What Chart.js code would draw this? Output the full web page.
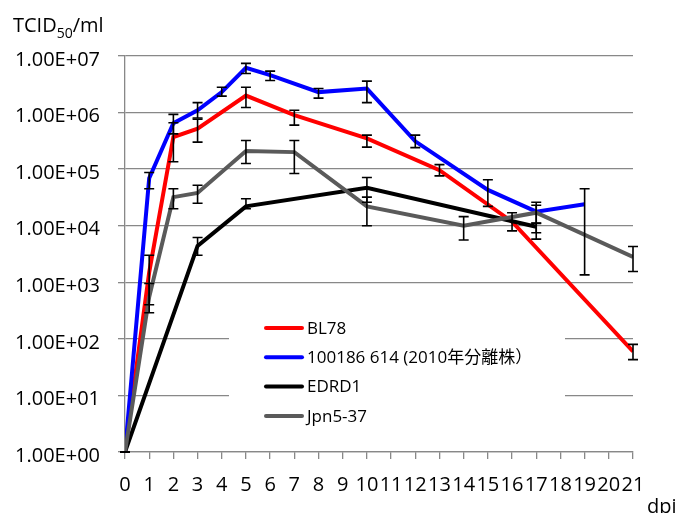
<!DOCTYPE html>
<html>
<head>
<meta charset="utf-8">
<script src="https://cdn.jsdelivr.net/npm/chart.js@4"></script>
<style>
html,body{margin:0;padding:0;background:#fff;}
canvas{display:block;}
</style>
</head>
<body>
<canvas id="c" width="676" height="513"></canvas>
<script>
// ---- data ----
const seriesLabels = ["BL78", "100186 614 (2010年分離株）", "EDRD1", "Jpn5-37"];
const seriesColors = ["#ff0000", "#0000ff", "#000000", "#5a5a5a"];

const bl78Days   = [0, 1, 2, 3, 5, 7, 10, 13, 16, 21];
const bl78Values = [1, 1.5e3, 3.7e5, 5.2e5, 2.0e6, 9.0e5, 3.5e5, 9.6e4, 1.18e4, 60];
const bl78Upper  = [1, 3.0e3, 6.6e5, 7.6e5, 2.8e6, 1.1e6, 4.0e5, 1.2e5, 1.7e4, 80];
const bl78Lower  = [1, 400, 1.35e5, 3.0e5, 1.23e6, 6.0e5, 2.45e5, 7.6e4, 8.1e3, 43];

const iso2010Days   = [0, 1, 2, 3, 4, 5, 6, 8, 10, 12, 15, 17, 19];
const iso2010Values = [1, 6.9e4, 6.5e5, 1.1e6, 2.3e6, 6.2e6, 4.6e6, 2.3e6, 2.66e6, 3.1e5, 4.3e4, 1.77e4, 2.4e4];
const iso2010Upper  = [1, 8.7e4, 9.3e5, 1.5e6, 2.8e6, 7.4e6, 5.4e6, 2.66e6, 3.6e6, 4.0e5, 6.5e4, 2.3e4, 4.5e4];
const iso2010Lower  = [1, 4.5e4, 4.2e5, 8.0e5, 1.95e6, 4.9e6, 3.7e6, 1.8e6, 1.5e6, 2.4e5, 2.2e4, 1.1e4, 1.35e3];

const edrd1Days   = [0, 3, 5, 10, 17];
const edrd1Values = [1, 4.4e3, 2.2e4, 4.7e4, 9.6e3];
const edrd1Upper  = [1, 6.2e3, 3.0e4, 7.1e4, 1.12e4];
const edrd1Lower  = [1, 3.0e3, 2.0e4, 2.6e4, 7.5e3];

const jpnDays   = [0, 1, 2, 3, 5, 7, 10, 14, 17, 21];
const jpnValues = [1, 550, 3.2e4, 3.8e4, 2.1e5, 2.0e5, 2.2e4, 1.0e4, 1.7e4, 2.8e3];
const jpnUpper  = [1, 950, 4.5e4, 5.2e4, 3.2e5, 3.2e5, 3.2e4, 1.45e4, 2.6e4, 4.3e3];
const jpnLower  = [1, 290, 2.0e4, 2.5e4, 1.26e5, 8.4e4, 1.0e4, 5.6e3, 5.8e3, 1.55e3];

const xTicks = [0,1,2,3,4,5,6,7,8,9,10,11,12,13,14,15,16,17,18,19,20,21];
const yTicks = [1, 1e1, 1e2, 1e3, 1e4, 1e5, 1e6, 1e7];
const yTickLabels = ["1.00E+00","1.00E+01","1.00E+02","1.00E+03","1.00E+04","1.00E+05","1.00E+06","1.00E+07"];
const yAxisTitle = ["TCID", "50", "/ml"];
const xAxisTitle = "dpi";

// ---- build ----
const allDays = [bl78Days, iso2010Days, edrd1Days, jpnDays];
const allVals = [bl78Values, iso2010Values, edrd1Values, jpnValues];
const allUp = [bl78Upper, iso2010Upper, edrd1Upper, jpnUpper];
const allLo = [bl78Lower, iso2010Lower, edrd1Lower, jpnLower];

const datasets = seriesLabels.map((lab, i) => ({
  label: lab,
  data: allDays[i].map((d, j) => ({x: d, y: allVals[i][j]})),
  errUp: allUp[i],
  errLo: allLo[i],
  borderColor: seriesColors[i],
  backgroundColor: seriesColors[i],
  borderWidth: 4,
  pointRadius: 0,
  tension: 0,
  fill: false,
  order: 4 - i
}));

const FONT = "'Open Sans', 'Noto Sans CJK JP', sans-serif";

const legendPlugin = {
  id: 'customLegend',
  beforeDatasetsDraw(chart) {
    const ctx = chart.ctx;
    ctx.save();
    ctx.fillStyle = '#fff';
    ctx.fillRect(229, 300, 336, 140);
    ctx.font = "17px " + FONT;
    ctx.textBaseline = 'middle';
    ctx.textAlign = 'left';
    chart.data.datasets.forEach((ds, i) => {
      const y = 328 + i * 29.3;
      ctx.strokeStyle = ds.borderColor;
      ctx.lineWidth = 4;
      ctx.lineCap = 'round';
      ctx.beginPath();
      ctx.moveTo(266, y);
      ctx.lineTo(302, y);
      ctx.stroke();
      ctx.fillStyle = '#000';
      ctx.fillText(ds.label, 307, y + 1);
    });
    ctx.restore();
  }
};

const errorBarPlugin = {
  id: 'errorBars',
  afterDatasetsDraw(chart) {
    const ctx = chart.ctx;
    const xs = chart.scales.x, ys = chart.scales.y;
    ctx.save();
    ctx.strokeStyle = '#000';
    ctx.lineWidth = 1.6;
    chart.data.datasets.forEach(ds => {
      ds.data.forEach((p, j) => {
        const px = xs.getPixelForValue(p.x);
        const pt = ys.getPixelForValue(ds.errUp[j]);
        const pb = ys.getPixelForValue(ds.errLo[j]);
        ctx.beginPath();
        ctx.moveTo(px, pt); ctx.lineTo(px, pb);
        ctx.moveTo(px - 5, pt); ctx.lineTo(px + 5, pt);
        ctx.moveTo(px - 5, pb); ctx.lineTo(px + 5, pb);
        ctx.stroke();
      });
    });
    ctx.restore();
  }
};

const titlePlugin = {
  id: 'titles',
  afterDraw(chart) {
    const ctx = chart.ctx;
    ctx.save();
    ctx.fillStyle = '#000';
    ctx.textBaseline = 'alphabetic';
    ctx.textAlign = 'left';
    ctx.font = "20px " + FONT;
    let x = 13;
    ctx.fillText(yAxisTitle[0], x, 32);
    x += ctx.measureText(yAxisTitle[0]).width;
    ctx.font = "14px " + FONT;
    ctx.fillText(yAxisTitle[1], x, 38);
    x += ctx.measureText(yAxisTitle[1]).width;
    ctx.font = "20px " + FONT;
    ctx.fillText(yAxisTitle[2], x, 32);
    ctx.fillText(xAxisTitle, 647, 513);
    ctx.restore();
  }
};

new Chart(document.getElementById('c'), {
  type: 'line',
  data: { datasets },
  options: {
    responsive: false,
    animation: false,
    devicePixelRatio: 1,
    layout: { padding: { left: 0, top: 56, right: 43, bottom: 0 } },
    plugins: { legend: { display: false }, tooltip: { enabled: false } },
    scales: {
      x: {
        type: 'linear',
        min: 0, max: 21,
        afterBuildTicks(scale) { scale.ticks = xTicks.map(v => ({value: v})); },
        afterFit(scale) { scale.height = 61; },
        grid: { drawOnChartArea: false, drawTicks: true, tickLength: 7, color: '#888', lineWidth: 1.3 },
        border: { display: true, color: '#888', width: 1.3 },
        ticks: {
          autoSkip: false, maxRotation: 0, minRotation: 0,
          color: '#000', padding: 14,
          font: { family: FONT, size: 20 },
          callback: v => String(v)
        }
      },
      y: {
        type: 'logarithmic',
        min: 1, max: 1e7,
        afterBuildTicks(scale) { scale.ticks = yTicks.map(v => ({value: v})); },
        afterFit(scale) { scale.width = 125; },
        grid: { drawOnChartArea: true, drawTicks: true, tickLength: 7, color: '#888', lineWidth: 1.3 },
        border: { display: true, color: '#888', width: 1.3 },
        ticks: {
          autoSkip: false,
          color: '#000', padding: 18, labelOffset: 4,
          font: { family: FONT, size: 20 },
          callback: (v) => { const k = yTicks.indexOf(v); return k >= 0 ? yTickLabels[k] : ''; }
        }
      }
    }
  },
  plugins: [legendPlugin, errorBarPlugin, titlePlugin]
});
</script>
</body>
</html>
